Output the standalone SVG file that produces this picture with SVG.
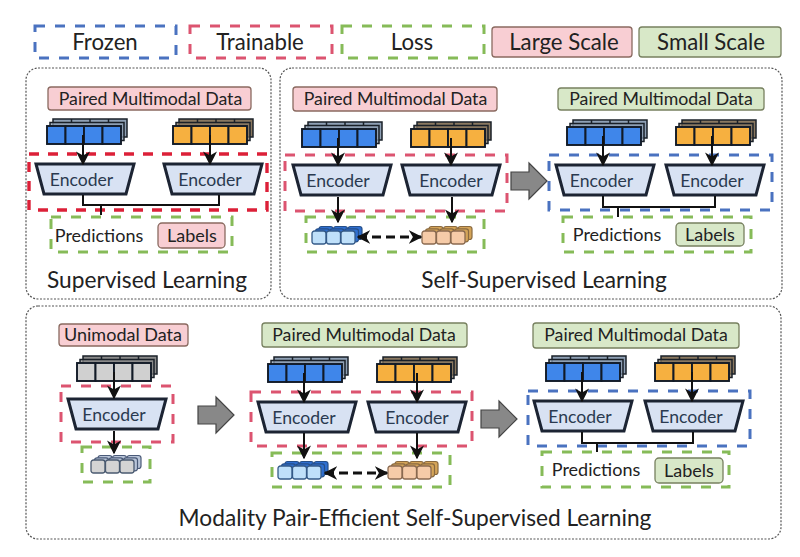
<svg xmlns="http://www.w3.org/2000/svg" width="800" height="557" viewBox="0 0 800 557">
<style>
text{font-family:Lato,"Liberation Sans",sans-serif;fill:#222;text-anchor:middle}
.t17{font-size:17.7px}.t18{font-size:18px}.enct{font-size:17.6px;fill:#2a3a50}.leg{font-size:22.2px}.ttl{font-size:22.7px}
.panel{fill:#fff;stroke:#555;stroke-width:1.2;stroke-dasharray:2 1.5}
.fr{fill:none;stroke:#4a72c0;stroke-width:3;stroke-dasharray:10 10}
.tr{fill:none;stroke:#dc5470;stroke-width:3;stroke-dasharray:10 10}
.trs{fill:none;stroke:#dc2038;stroke-width:3.4;stroke-dasharray:10 9}
.ls{fill:none;stroke:#86bb58;stroke-width:3;stroke-dasharray:10 10}
.pink{fill:#f8ced3;stroke:#8a6a60;stroke-width:1.3}
.green{fill:#d8e8c8;stroke:#77805f;stroke-width:1.3}
.enc{fill:#d8e2f3;stroke:#1c2433;stroke-width:3}
.c{fill:none;stroke:#111;stroke-width:2}
.a{fill:none;stroke:#111;stroke-width:2;marker-end:url(#ah)}
.d{fill:none;stroke:#111;stroke-width:3;stroke-dasharray:9 5;marker-start:url(#ah2);marker-end:url(#ah2)}
.big{fill:#888;stroke:#444;stroke-width:1.2}
.sb{fill:#2f6fd0;stroke:#264f88}.sbf{fill:#bfe0fa;stroke:#345a88}
.so{fill:#d4a458;stroke:#8a6a40}.sof{fill:#f6cba8;stroke:#8a6a50}
.sg{fill:#b8c4d8;stroke:#4a5a78}.sgf{fill:#d4d4d4;stroke:#4a5a70}
</style>
<defs>
<marker id="ah" viewBox="0 0 10 10" refX="9" refY="5" markerWidth="7" markerHeight="7" orient="auto" markerUnits="strokeWidth"><path d="M0 0L10 5L0 10L3 5Z" fill="#111"/></marker>
<marker id="ah2" viewBox="0 0 10 10" refX="9" refY="5" markerWidth="4.5" markerHeight="4.5" orient="auto-start-reverse" markerUnits="strokeWidth"><path d="M0 0L10 5L0 10L3 5Z" fill="#111"/></marker>
<g id="backL" stroke="#1a2028" stroke-width="1.5">
<rect x="6" y="-7" width="74" height="18"/>
<path d="M24.5-7v4M43-7v4M61.5-7v4" fill="none"/>
<rect x="3" y="-3.5" width="74" height="18" fill-opacity=".75"/>
</g>
<g id="frontL" stroke="#111a26" stroke-width="1.9">
<rect width="18.5" height="18"/><rect x="18.5" width="18.5" height="18"/><rect x="37" width="18.5" height="18"/><rect x="55.5" width="18.5" height="18"/>
</g>
<g id="backS" stroke-width="1.2">
<rect x="7" y="-4.5" width="14" height="13" rx="2.5"/><rect x="21.5" y="-4.5" width="14" height="13" rx="2.5"/><rect x="36" y="-4.5" width="14" height="13" rx="2.5"/>
<rect x="3.5" y="-2.2" width="14" height="13" rx="2.5"/><rect x="18" y="-2.2" width="14" height="13" rx="2.5"/><rect x="32.5" y="-2.2" width="14" height="13" rx="2.5"/>
</g>
<g id="frontS" stroke-width="1.3"><rect width="14" height="13" rx="2.5"/><rect x="14.5" width="14" height="13" rx="2.5"/><rect x="29" width="14" height="13" rx="2.5"/></g>
<path id="encShape" class="enc" d="M0 0H98L90 30H8Z"/>
<path id="bigArrow" class="big" d="M0 9H18V0L36 18L18 36V27H0Z"/>
</defs>

<g id="legend">
<g id="legend-frozen"><rect class="fr" x="35" y="26" width="141" height="32"/><text class="leg" x="105" y="50">Frozen</text></g>
<g id="legend-trainable"><rect class="tr" x="190" y="26" width="142" height="32"/><text class="leg" x="260" y="50">Trainable</text></g>
<g id="legend-loss"><rect class="ls" x="342" y="26" width="142" height="32"/><text class="leg" x="412" y="50">Loss</text></g>
<g id="legend-large"><rect class="pink" x="492" y="27" width="140" height="30" rx="3"/><text class="leg" x="564" y="50">Large Scale</text></g>
<g id="legend-small"><rect class="green" x="639" y="27" width="142" height="30" rx="3"/><text class="leg" x="711" y="50">Small Scale</text></g>
</g>

<g id="panels">
<rect class="panel" x="26" y="68" width="245" height="231" rx="12"/>
<rect class="panel" x="280" y="68" width="502" height="231" rx="12"/>
<rect class="panel" x="26" y="306" width="755" height="233" rx="12"/>
</g>

<g id="regions">
<rect class="trs" x="29" y="154" width="238" height="56"/>
<rect class="ls" x="51" y="217" width="181" height="35"/>
<rect class="tr" x="285" y="155" width="222" height="56"/>
<rect class="ls" x="306" y="217" width="178" height="35"/>
<rect class="fr" x="549" y="155" width="223" height="55"/>
<rect class="ls" x="563" y="217" width="188" height="35"/>
<rect class="tr" x="61" y="386" width="112" height="56"/>
<rect class="ls" x="82" y="447" width="68" height="35"/>
<rect class="tr" x="251" y="392" width="221" height="54"/>
<rect class="ls" x="272" y="453" width="178" height="34"/>
<rect class="fr" x="528" y="391" width="222" height="55"/>
<rect class="ls" x="542" y="452" width="187" height="35"/>
</g>

<g id="supervised">
<g id="sl-data"><rect class="pink" x="48" y="87" width="203" height="23" rx="3"/><text class="t17" x="150.5" y="105">Paired Multimodal Data</text></g>
<g id="sl-blue"><use href="#backL" x="47" y="126" fill="#8fa0b5"/><use href="#frontL" x="47" y="126" fill="#3f86ea"/></g>
<g id="sl-orange"><use href="#backL" x="173" y="126" fill="#8a7860"/><use href="#frontL" x="173" y="126" fill="#f6b040"/></g>
<g id="sl-enc1"><use href="#encShape" x="36" y="164"/><text class="enct" x="81.5" y="186">Encoder</text></g>
<g id="sl-enc2"><use href="#encShape" x="164" y="164"/><text class="enct" x="210" y="186">Encoder</text></g>
<text class="t18" x="99" y="242">Predictions</text>
<g id="sl-labels"><rect class="pink" x="158" y="223" width="67" height="25" rx="4"/><text class="t18" x="192" y="242">Labels</text></g>
<text id="sl-title" class="ttl" x="147" y="288">Supervised Learning</text>
</g>

<g id="ssl">
<g id="ssl-data1"><rect class="pink" x="293" y="87" width="204" height="24" rx="3"/><text class="t17" x="395.5" y="105">Paired Multimodal Data</text></g>
<g id="ssl-blue"><use href="#backL" x="302" y="129" fill="#8fa0b5"/><use href="#frontL" x="302" y="129" fill="#3f86ea"/></g>
<g id="ssl-orange"><use href="#backL" x="411" y="129" fill="#8a7860"/><use href="#frontL" x="411" y="129" fill="#f6b040"/></g>
<g id="ssl-enc1"><use href="#encShape" x="293" y="165"/><text class="enct" x="338" y="187">Encoder</text></g>
<g id="ssl-enc2"><use href="#encShape" x="402" y="165"/><text class="enct" x="451" y="187">Encoder</text></g>
<g id="ssl-z1"><use href="#backS" x="312" y="231" class="sb"/><use href="#frontS" x="312" y="231" class="sbf"/></g>
<g id="ssl-z2"><use href="#backS" x="422" y="231" class="so"/><use href="#frontS" x="422" y="231" class="sof"/></g>
<use id="ssl-arrow" href="#bigArrow" x="511" y="163"/>
<g id="ssl-data2"><rect class="green" x="558" y="88" width="206" height="22" rx="3"/><text class="t17" x="661" y="105">Paired Multimodal Data</text></g>
<g id="ssl-blue2"><use href="#backL" x="567" y="127" fill="#8fa0b5"/><use href="#frontL" x="567" y="127" fill="#3f86ea"/></g>
<g id="ssl-orange2"><use href="#backL" x="676" y="127" fill="#8a7860"/><use href="#frontL" x="676" y="127" fill="#f6b040"/></g>
<g id="ssl-enc3"><use href="#encShape" x="556" y="165"/><text class="enct" x="601.5" y="187">Encoder</text></g>
<g id="ssl-enc4"><use href="#encShape" x="666" y="165"/><text class="enct" x="712" y="187">Encoder</text></g>
<text class="t18" x="617" y="241">Predictions</text>
<g id="ssl-labels"><rect class="green" x="676" y="223" width="68" height="23" rx="4"/><text class="t18" x="710" y="241">Labels</text></g>
<text id="ssl-title" class="ttl" x="544" y="288">Self-Supervised Learning</text>
</g>

<g id="mpe">
<g id="m-data1"><rect class="pink" x="59" y="324" width="129" height="22" rx="3"/><text class="t18" x="123" y="341">Unimodal Data</text></g>
<g id="m-gray"><use href="#backL" x="77" y="363" fill="#8a8a8a"/><use href="#frontL" x="77" y="363" fill="#d0d0d0"/></g>
<g id="m-enc0"><use href="#encShape" x="68" y="399"/><text class="enct" x="114" y="421">Encoder</text></g>
<g id="m-z0"><use href="#backS" x="91" y="460" class="sg"/><use href="#frontS" x="91" y="460" class="sgf"/></g>
<use id="m-arrow1" href="#bigArrow" x="198" y="397"/>
<g id="m-data2"><rect class="green" x="262" y="323" width="205" height="24" rx="3"/><text class="t17" x="364" y="341">Paired Multimodal Data</text></g>
<g id="m-blue"><use href="#backL" x="268" y="364" fill="#8fa0b5"/><use href="#frontL" x="268" y="364" fill="#3f86ea"/></g>
<g id="m-orange"><use href="#backL" x="377" y="364" fill="#8a7860"/><use href="#frontL" x="377" y="364" fill="#f6b040"/></g>
<g id="m-enc1"><use href="#encShape" x="258" y="402"/><text class="enct" x="304" y="424">Encoder</text></g>
<g id="m-enc2"><use href="#encShape" x="368" y="402"/><text class="enct" x="417" y="424">Encoder</text></g>
<g id="m-z1"><use href="#backS" x="278" y="466" class="sb"/><use href="#frontS" x="278" y="466" class="sbf"/></g>
<g id="m-z2"><use href="#backS" x="388" y="466" class="so"/><use href="#frontS" x="388" y="466" class="sof"/></g>
<use id="m-arrow2" href="#bigArrow" x="481" y="401"/>
<g id="m-data3"><rect class="green" x="533" y="323" width="206" height="25" rx="3"/><text class="t17" x="636" y="341">Paired Multimodal Data</text></g>
<g id="m-blue2"><use href="#backL" x="546" y="363" fill="#8fa0b5"/><use href="#frontL" x="546" y="363" fill="#3f86ea"/></g>
<g id="m-orange2"><use href="#backL" x="655" y="363" fill="#8a7860"/><use href="#frontL" x="655" y="363" fill="#f6b040"/></g>
<g id="m-enc3"><use href="#encShape" x="534" y="401"/><text class="enct" x="580" y="423">Encoder</text></g>
<g id="m-enc4"><use href="#encShape" x="645" y="401"/><text class="enct" x="691" y="423">Encoder</text></g>
<text class="t18" x="596" y="476">Predictions</text>
<g id="m-labels"><rect class="green" x="655" y="458" width="68" height="25" rx="4"/><text class="t18" x="689" y="477">Labels</text></g>
<text id="m-title" class="ttl" x="415" y="526">Modality Pair-Efficient Self-Supervised Learning</text>
</g>

<g id="connectors">
<path class="a" d="M83 135V164"/><path class="a" d="M210 135V164"/>
<path class="c" d="M83 195V205H219V195M101 205V215"/>
<path class="a" d="M338 138V165"/><path class="a" d="M451 138V165"/>
<path class="a" d="M338 197V222"/><path class="a" d="M452 197V222"/>
<path class="d" d="M358 237H421"/>
<path class="a" d="M603 136V165"/><path class="a" d="M712 136V165"/>
<path class="c" d="M603 196V207H715V196M618 207V217"/>
<path class="a" d="M114 372V398"/><path class="a" d="M114 431V453"/>
<path class="a" d="M304 373V402"/><path class="a" d="M417 373V402"/>
<path class="a" d="M304 433V458"/><path class="a" d="M417 433V458"/>
<path class="d" d="M325 473H387"/>
<path class="a" d="M582 372V401"/><path class="a" d="M692 372V401"/>
<path class="c" d="M582 432V443H693V432M597 443V452"/>
</g>
</svg>
